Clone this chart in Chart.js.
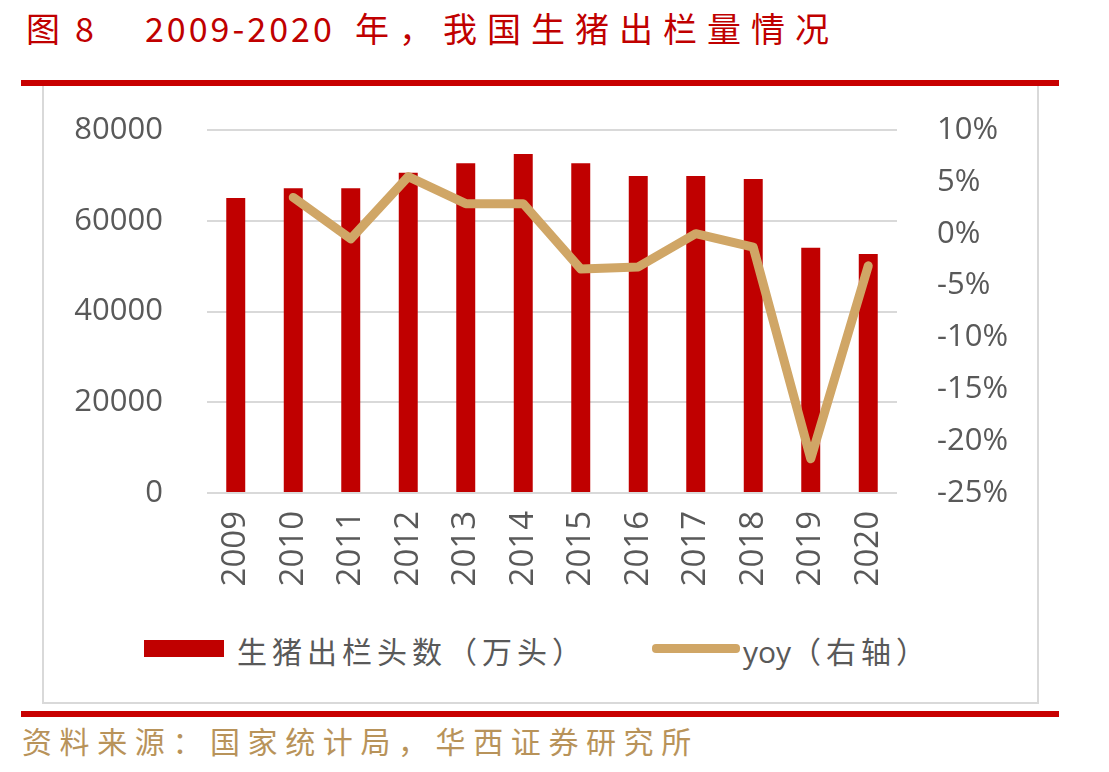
<!DOCTYPE html>
<html>
<head>
<meta charset="utf-8">
<script src="https://cdn.jsdelivr.net/npm/chart.js@4.4.1/dist/chart.umd.min.js"></script>
<style>
  html, body { margin:0; padding:0; background:#fff; }
  body { width:1109px; height:772px; position:relative; overflow:hidden; font-family:"Noto Sans CJK SC", sans-serif; }
  .tt { position:absolute; top:4px; font-size:34px; color:#C00000; white-space:nowrap; line-height:48px; }
  .redline { position:absolute; left:21px; width:1038px; height:6px; background:#C80000; }
  #box { position:absolute; left:42px; top:86px; width:993px; height:616px; border:2px solid #D9D9D9; border-top:none; }
  #wrap { position:absolute; left:43px; top:87px; width:995px; height:525px; }
  #legend { position:absolute; top:628px; left:0; width:1109px; height:44px; font-size:30px; color:#595959; }
  .lg { position:absolute; white-space:nowrap; line-height:44px; top:0; }
  #source { position:absolute; left:22px; top:718px; font-size:30px; color:#B8935A; letter-spacing:7.6px; white-space:nowrap; line-height:44px; }
</style>
</head>
<body>
<div class="tt" style="left:26px">图</div>
<div class="tt" style="left:75px">8</div>
<div class="tt" style="left:145px;letter-spacing:3px">2009-2020</div>
<div class="tt" style="left:355px;letter-spacing:10px">年，我国生猪出栏量情况</div>
<div class="redline" style="top:80px"></div>
<div id="box"></div>
<div id="wrap"><canvas id="c" width="995" height="525"></canvas></div>
<div id="legend">
  <div style="position:absolute;left:144px;top:12px;width:80px;height:17px;background:#C00000"></div>
  <div class="lg" style="left:237px;letter-spacing:5px">生猪出栏头数（万头）</div>
  <div style="position:absolute;left:652px;top:16px;width:88px;height:9px;border-radius:4px;background:#D0A666"></div>
  <div class="lg" style="left:743px"><span style="font-family:'Open Sans'">yoy</span><span style="letter-spacing:5px">（右轴）</span></div>
</div>
<div class="redline" style="top:711px"></div>
<div id="source">资料来源：国家统计局，华西证券研究所</div>
<script>
const categories = ["2009","2010","2011","2012","2013","2014","2015","2016","2017","2018","2019","2020"];
const hogOutput = [65000, 67150, 67150, 70590, 72650, 74710, 72650, 69860, 69860, 69200, 54060, 52670];
const yoyPct = [null, 3.5, -0.5, 5.5, 2.9, 2.9, -3.4, -3.2, 0.0, -1.3, -21.7, -3.1];
const leftTicks = [0, 20000, 40000, 60000, 80000];
const rightTicks = [-25, -20, -15, -10, -5, 0, 5, 10];

const tickFont = { family: "'Open Sans', sans-serif", size: 31 };
const xTickFont = { family: "'Open Sans', sans-serif", size: 33 };
const tickColor = "#595959";

new Chart(document.getElementById('c'), {
  data: {
    labels: categories,
    datasets: [
      { type:'line', label:'yoy（右轴）', data: yoyPct, yAxisID:'y1', borderColor:'#D0A666', borderWidth:9,
        pointRadius:0, tension:0, order:0, spanGaps:false, borderCapStyle:'round', borderJoinStyle:'round' },
      { type:'bar', label:'生猪出栏头数（万头）', data: hogOutput, yAxisID:'y', backgroundColor:'#C00000',
        categoryPercentage:1, barPercentage:0.33, order:1 }
    ]
  },
  options: {
    responsive:false, animation:false,
    layout:{ padding:{ top:43, left:0, right:0, bottom:0 } },
    plugins:{ legend:{ display:false }, tooltip:{ enabled:false } },
    scales:{
      x:{ grid:{ display:false, drawTicks:false }, border:{ display:false },
          ticks:{ font:xTickFont, color:tickColor, minRotation:90, maxRotation:90, padding:18, autoSkip:false },
          afterFit(s){ s.height = 119; s.paddingLeft = 0; s.paddingRight = 0; } },
      y:{ position:'left', min:0, max:80000,
          afterBuildTicks(s){ s.ticks = leftTicks.map(v=>({value:v})); },
          grid:{ color:'#D9D9D9', lineWidth:2, drawTicks:false }, border:{ display:false },
          ticks:{ font:tickFont, color:tickColor, padding:44, callback:v=>String(v) },
          afterFit(s){ s.width = 164; s.paddingTop = 0; s.paddingBottom = 0; } },
      y1:{ position:'right', min:-25, max:10,
          afterBuildTicks(s){ s.ticks = rightTicks.map(v=>({value:v})); },
          grid:{ display:false, drawTicks:false }, border:{ display:false },
          ticks:{ font:tickFont, color:tickColor, padding:40, callback:v=>v+'%' },
          afterFit(s){ s.width = 141; s.paddingTop = 0; s.paddingBottom = 0; } }
    }
  }
});
</script>
</body>
</html>
